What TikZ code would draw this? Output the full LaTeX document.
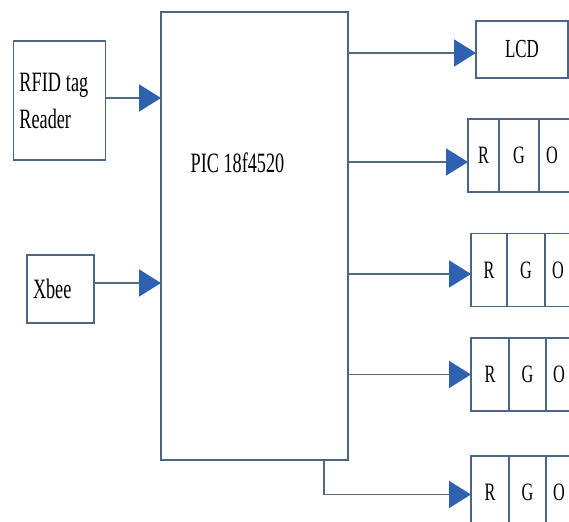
\documentclass[tikz,border=0pt]{standalone}
\usepackage{fontspec}
\setmainfont{Liberation Serif}[FakeStretch=0.65]
\usetikzlibrary{arrows.meta,positioning,calc}
\definecolor{edge}{HTML}{4A6585}
\definecolor{wire}{HTML}{526883}
\definecolor{tip}{HTML}{2E62B0}
\tikzset{
  box/.style={draw=edge, line width=1.3pt, inner sep=0pt, outer sep=0pt},
  cell/.style={box, minimum height=73pt, font=\fontsize{25}{28}\selectfont},
  conn/.style={wire, line width=1.8pt, -{Triangle[length=22pt,width=27pt,color=tip]}},
  big/.style={font=\fontsize{28}{37}\selectfont},
}

\begin{document}
\begin{tikzpicture}[x=1pt,y=-1pt]
  \useasboundingbox (0,0) rectangle (569,521);
  % Inputs
  \node[box, big, text width=80pt, align=left, inner xsep=6pt, minimum height=119pt] (rfid) at (59.5,100.5) {RFID\hspace{5pt}tag\\Reader};
  \node[box, big, text width=55pt, align=left, inner xsep=6pt, minimum height=68pt] (xbee) at (60.5,289) {Xbee};
  % Controller
  \node[box, minimum width=187pt, minimum height=448pt] (pic) at (254.5,236) {};
  \node[big] (pictxt) at (237.5,163) {PIC 18f4520};
  % Outputs
  \node[box, font=\fontsize{26}{28}\selectfont, minimum width=92pt, minimum height=57pt] (lcd) at (522,49.5) {LCD};
  \node[cell, minimum width=31pt] (r1) at (483.5,155.5) {R};
  \node[cell, minimum width=40pt, right=0pt of r1] (g1) {G};
  \node[cell, text width=34pt, align=left, inner xsep=7pt, right=0pt of g1] (o1) {O};
  \node[cell, minimum width=36pt] (r2) at (489,270) {R};
  \node[cell, minimum width=38pt, right=0pt of r2] (g2) {G};
  \node[cell, text width=34pt, align=left, inner xsep=7pt, right=0pt of g2] (o2) {O};
  \node[cell, minimum width=38pt] (r3) at (490,374.5) {R};
  \node[cell, minimum width=37pt, right=0pt of r3] (g3) {G};
  \node[cell, text width=34pt, align=left, inner xsep=7pt, right=0pt of g3] (o3) {O};
  \node[cell, minimum width=38pt] (r4) at (490,492.5) {R};
  \node[cell, minimum width=37pt, right=0pt of r4] (g4) {G};
  \node[cell, text width=34pt, align=left, inner xsep=7pt, right=0pt of g4] (o4) {O};
  % Connections
  \draw[conn] ($(rfid.east)+(0,-2.5)$) -- ($(rfid.east -| pic.west)+(0,-2.5)$);
  \draw[conn] ($(xbee.east)+(0,-6)$) -- ($(xbee.east -| pic.west)+(0,-6)$);
  \draw[conn] ($(lcd.west -| pic.east)+(0,3.5)$) -- ($(lcd.west)+(0,3.5)$);
  \draw[conn] ($(r1.west -| pic.east)+(0,6.5)$) -- ($(r1.west)+(0,6.5)$);
  \draw[conn] ($(r2.west -| pic.east)+(0,4)$) -- ($(r2.west)+(0,4)$);
  \draw[conn] (r3.west -| pic.east) -- (r3.west);
  \draw[conn] ([xshift=69.5pt]pic.south) |- ($(r4.west)+(0,2)$);
\end{tikzpicture}
\end{document}
